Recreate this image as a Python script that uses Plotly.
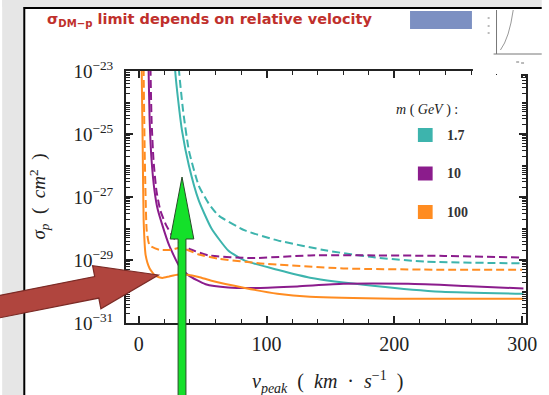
import plotly.graph_objects as go

W, H = 549, 395
L, R, T, B = 126, 533, 71, 323


def px(x):
    return (x - L) / (R - L)


def py(y):
    return (B - y) / (B - T)


# ---------------- data ----------------
masses = ["1.7", "10", "100"]
colors = ["#3db4ad", "#8b1c8c", "#ff8c21"]

teal_solid_x = [28.0, 28.5, 30.8, 33.8, 39.2, 46.9, 56.9, 70, 83, 108.5, 134, 185, 237, 301]
teal_solid_y = [3e-23, 1.0e-23, 1.2e-24, 1.3e-25, 1.0e-26, 7.8e-28, 1.0e-28, 2.0e-29, 9.5e-30,
                4.9e-30, 2.75e-30, 1.5e-30, 9.8e-31, 8.5e-31]
teal_dash_x = [31.0, 31.5, 34.6, 39.2, 46.9, 54.6, 62.3, 83, 108.5, 147, 185, 224, 300]
teal_dash_y = [3e-23, 1.0e-23, 5.8e-25, 3.0e-26, 2.3e-27, 6.3e-28, 2.6e-28, 8.7e-29, 4.2e-29,
               2.0e-29, 1.2e-29, 8.9e-30, 7.8e-30]

purple_solid_x = [7.6, 7.7, 8.5, 10.0, 12.3, 14.6, 18.5, 23.8, 31.5, 39.2, 52.3, 70, 93, 124,
                  160, 211, 255, 301]
purple_solid_y = [3e-23, 1.0e-23, 2.8e-25, 1.5e-26, 1.6e-27, 4.4e-28, 1.26e-28, 2.9e-29, 6.6e-30,
                  3.2e-30, 1.7e-30, 1.35e-30, 1.3e-30, 1.45e-30, 1.75e-30, 1.75e-30, 1.5e-30,
                  1.25e-30]
purple_dash_x = [9.1, 9.2, 10.0, 11.5, 13.8, 16.9, 21.5, 27.7, 39.2, 54.6, 87.7, 134, 185, 239, 300]
purple_dash_y = [3e-23, 1.0e-23, 2.8e-25, 1.5e-26, 1.6e-27, 3.7e-28, 1.26e-28, 4.8e-29, 2.3e-29,
                 1.4e-29, 1.15e-29, 1.4e-29, 1.4e-29, 1.35e-29, 1.2e-29]

orange_solid_x = [2.3, 2.3, 3.1, 3.8, 5.4, 8.5, 13.1, 18.5, 23.8, 30, 37.7, 46.9, 56.9, 83, 108.5,
                  134, 201, 301]
orange_solid_y = [3e-23, 1.0e-23, 3.0e-26, 1.8e-28, 1.4e-29, 5.4e-30, 3.1e-30, 2.7e-30, 3.0e-30,
                  3.4e-30, 3.4e-30, 2.9e-30, 2.2e-30, 1.3e-30, 8.5e-31, 6.8e-31, 5.9e-31, 5.9e-31]
orange_dash_x = [3.8, 3.8, 4.6, 5.4, 6.2, 8.5, 16.2, 25.4, 33.1, 39.2, 46.9, 62.3, 95.4, 160, 239, 300]
orange_dash_y = [3e-23, 1.0e-23, 3.0e-26, 7.8e-28, 8.7e-29, 2.9e-29, 2.1e-29, 2.1e-29, 2.5e-29,
                 2.0e-29, 1.5e-29, 1.1e-29, 7.8e-30, 5.4e-30, 4.9e-30, 4.9e-30]

x_tickvals = [0, 100, 200, 300]
y_tickvals = [1e-31, 1e-29, 1e-27, 1e-25, 1e-23]
y_ticktext = ["10<sup>−31</sup>", "10<sup>−29</sup>", "10<sup>−27</sup>", "10<sup>−25</sup>",
              "10<sup>−23</sup>"]
y_minor_vals = [m * 10.0 ** e for e in range(-31, -23) for m in range(1, 10)][1:]

series = [
    (teal_dash_x, teal_dash_y, colors[0], "8px,4px"),
    (teal_solid_x, teal_solid_y, colors[0], "solid"),
    (purple_dash_x, purple_dash_y, colors[1], "8px,4px"),
    (purple_solid_x, purple_solid_y, colors[1], "solid"),
    (orange_dash_x, orange_dash_y, colors[2], "8px,4px"),
    (orange_solid_x, orange_solid_y, colors[2], "solid"),
]

fig = go.Figure()
for xs, ys, c, d in series:
    fig.add_trace(go.Scatter(x=xs, y=ys, mode="lines",
                             line=dict(color=c, width=2, dash=d, shape="spline", smoothing=0.5),
                             showlegend=False, hoverinfo="skip"))

serif = "Liberation Serif, DejaVu Serif, serif"

fig.update_layout(
    width=W, height=H,
    margin=dict(l=L, r=W - R, t=T, b=H - B),
    paper_bgcolor="white", plot_bgcolor="white",
    showlegend=False,
    xaxis=dict(range=[-10, 303], tickmode="array", tickvals=x_tickvals,
               ticks="inside", ticklen=7, tickwidth=1.5, tickcolor="#222",
               showline=True, linecolor="#222", linewidth=2, mirror="ticks",
               showgrid=False, zeroline=False, ticklabelstandoff=2,
               tickfont=dict(family=serif, size=20, color="#222"),
               minor=dict(ticks="inside", ticklen=4, tickwidth=1.2, tickcolor="#222", dtick=20,
                          showgrid=False)),
    yaxis=dict(type="log", range=[-31, -23], tickmode="array", tickvals=y_tickvals,
               ticktext=y_ticktext,
               ticks="inside", ticklen=7, tickwidth=1.5, tickcolor="#222",
               showline=True, linecolor="#222", linewidth=2, mirror="ticks",
               showgrid=False, zeroline=False, ticklabelstandoff=7,
               tickfont=dict(family=serif, size=19, color="#222"),
               minor=dict(ticks="inside", ticklen=4, tickwidth=1.2, tickcolor="#222",
                          tickmode="array", tickvals=y_minor_vals, showgrid=False)),
)

shapes = []
annotations = []

# slide background / frame
shapes.append(dict(type="rect", xref="paper", yref="paper", x0=px(0), x1=px(22), y0=py(0), y1=py(H),
                   fillcolor="#e6e6e6", line=dict(width=0), layer="above"))
shapes.append(dict(type="rect", xref="paper", yref="paper", x0=px(0), x1=px(W), y0=py(0), y1=py(7),
                   fillcolor="#e6e6e6", line=dict(width=0), layer="above"))
shapes.append(dict(type="line", xref="paper", yref="paper", x0=px(22.5), x1=px(22.5), y0=py(7), y1=py(H),
                   line=dict(color="black", width=2), layer="above"))
shapes.append(dict(type="line", xref="paper", yref="paper", x0=px(22), x1=px(W), y0=py(8), y1=py(8),
                   line=dict(color="black", width=2), layer="above"))

# slide title & blue box
annotations.append(dict(xref="paper", yref="paper", x=px(44), y=py(20), xanchor="left", yanchor="middle",
                        showarrow=False,
                        text="<b>σ<sub>DM−p</sub> limit depends on relative velocity</b>",
                        font=dict(family="DejaVu Sans, sans-serif", size=14.5, color="#c0302c")))
shapes.append(dict(type="rect", xref="paper", yref="paper", x0=px(415), x1=px(478), y0=py(11), y1=py(29),
                   fillcolor="#7c90c2", line=dict(width=0), layer="above"))

# top-right inset covering plot corner
shapes.append(dict(type="rect", xref="paper", yref="paper", x0=px(479), x1=px(W), y0=py(9), y1=py(74),
                   fillcolor="white", line=dict(width=0), layer="above"))
for (xa, ya, xb, yb) in [(503, 10, 503, 54), (500, 54, W, 54), (494, 18, 496, 18), (494, 26, 496, 26),
                         (494, 33, 496, 33), (523, 62, 526, 62), (528, 63, 531, 63)]:
    shapes.append(dict(type="line", xref="paper", yref="paper", x0=px(xa), x1=px(xb), y0=py(ya), y1=py(yb),
                       line=dict(color="#777", width=1), layer="above"))
shapes.append(dict(type="path", xref="paper", yref="paper",
                   path=f"M {px(507)},{py(50)} Q {px(516)},{py(38)} {px(520)},{py(10)}",
                   line=dict(color="#999", width=1), layer="above"))
shapes.append(dict(type="line", xref="paper", yref="paper", x0=px(533), x1=px(533), y0=py(74), y1=py(78),
                   line=dict(color="#222", width=2), layer="above"))

# legend
annotations.append(dict(xref="paper", yref="paper", x=px(432), y=py(110), xanchor="center", yanchor="middle",
                        showarrow=False, text="<i>m</i> ( <i>GeV</i> ) :",
                        font=dict(family=serif, size=14, color="#222")))
for i, (m, c) in enumerate(zip(masses, colors)):
    yc = 135 + i * 38.5
    shapes.append(dict(type="rect", xref="paper", yref="paper", x0=px(423), x1=px(438),
                       y0=py(yc - 7), y1=py(yc + 7), fillcolor=c, line=dict(width=0), layer="above"))
    annotations.append(dict(xref="paper", yref="paper", x=px(451), y=py(yc), xanchor="left", yanchor="middle",
                            showarrow=False, text=f"<b>{m}</b>",
                            font=dict(family=serif, size=14, color="#333")))

# axis titles
annotations.append(dict(xref="paper", yref="paper", x=px(331), y=py(382), xanchor="center", yanchor="middle",
                        showarrow=False,
                        text="<i>v</i><sub><i>peak</i></sub>&nbsp;&nbsp;(&nbsp;&nbsp;<i>km</i>&nbsp;&nbsp;·&nbsp;&nbsp;<i>s</i><sup>−1</sup>&nbsp;&nbsp;)",
                        font=dict(family=serif, size=20, color="#222")))
annotations.append(dict(xref="paper", yref="paper", x=px(37), y=py(197), xanchor="center", yanchor="middle",
                        showarrow=False, textangle=-90,
                        text="<i>σ<sub>p</sub></i>&nbsp;&nbsp;(&nbsp;&nbsp;<i>cm</i><sup>2</sup>&nbsp;&nbsp;)",
                        font=dict(family=serif, size=19, color="#222")))

# red arrow
tip = (159.0, 275.0)
ux, uy = 0.981, -0.192
nx, ny = 0.192, 0.981
tail_len = 180
head_len = 64
sw, hw = 11, 22
bx, by = tip[0] - ux * head_len, tip[1] - uy * head_len
tx, ty = tip[0] - ux * tail_len, tip[1] - uy * tail_len
pts = [(tx - nx * sw, ty - ny * sw), (bx - nx * sw, by - ny * sw), (bx - nx * hw, by - ny * hw), tip,
       (bx + nx * hw, by + ny * hw), (bx + nx * sw, by + ny * sw), (tx + nx * sw, ty + ny * sw)]
path = "M " + " L ".join(f"{px(a)},{py(b)}" for a, b in pts) + " Z"
shapes.append(dict(type="path", xref="paper", yref="paper", path=path, fillcolor="#b0453e",
                   line=dict(color="#7a2a25", width=1.2), layer="above"))

# green arrow
gpts = [(179, 400), (179, 239), (171, 239), (183, 177), (195, 239), (187, 239), (187, 400)]
gpath = "M " + " L ".join(f"{px(a)},{py(b)}" for a, b in gpts) + " Z"
shapes.append(dict(type="path", xref="paper", yref="paper", path=gpath, fillcolor="#14e02a",
                   line=dict(color="#2a4a2a", width=1), layer="above"))

fig.update_layout(shapes=shapes, annotations=annotations)
fig.write_html("out.html")
